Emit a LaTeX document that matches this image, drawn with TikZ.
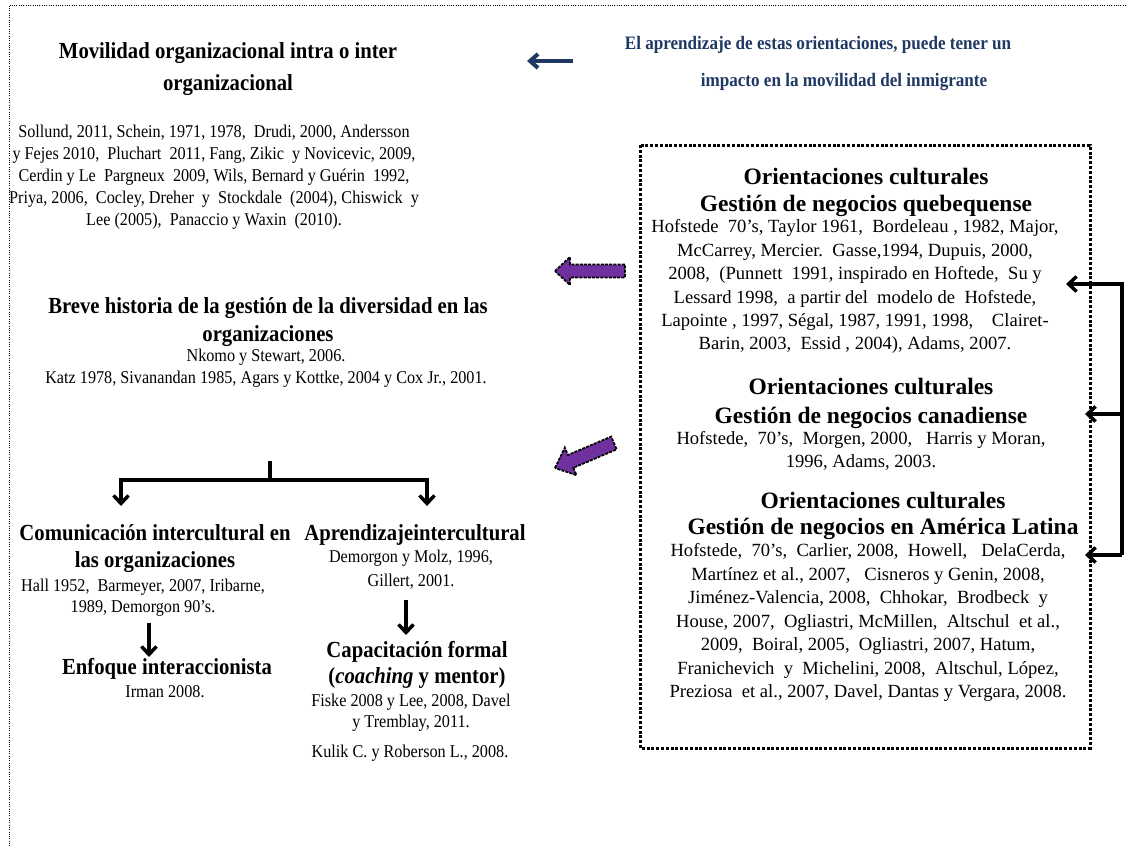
\documentclass[tikz,border=0pt]{standalone}
\usepackage{fontspec}
\setmainfont{Liberation Serif}
\newfontfamily\condfont{Liberation Serif}[FakeStretch=0.9]
\usetikzlibrary{arrows.meta}
\definecolor{navytext}{HTML}{1F3864}
\definecolor{arrowpurple}{HTML}{7030A0}

\begin{document}
\begin{tikzpicture}[x=1pt,y=-1pt,
  every node/.style={inner sep=0pt,outer sep=0pt},
  hd/.style={align=center,font=\condfont\bfseries\fontsize{23}{#1}\selectfont},
  hd/.default=28,
  ct/.style={align=center,font=\condfont\fontsize{18}{#1}\selectfont},
  ct/.default=22,
  bhd/.style={align=center,font=\bfseries\fontsize{23.5}{#1}\selectfont},
  bhd/.default=27,
  bct/.style={align=center,font=\fontsize{18.6}{#1}\selectfont},
  bct/.default=23.4,
  bluetxt/.style={text=navytext,font=\condfont\bfseries\fontsize{19}{20}\selectfont},
  barb/.style={line width=3.5pt,-{Straight Barb[length=8pt,width=15pt]}},
  plain/.style={line width=3.5pt},
  fatarrow/.style={fill=arrowpurple,draw=black,line width=1.8pt,dash pattern=on 3pt off 1.2pt,line join=miter},
  frame/.style={line width=1pt,dash pattern=on 1pt off 1.3pt},
  boxframe/.style={line width=3pt,dash pattern=on 3pt off 1.8pt}]
\useasboundingbox (0,0) rectangle (1126,846);

% outer dotted frame (top and left sides)
\draw[frame] (1126,5) -- (9,5) -- (9,846);

% --- left column -------------------------------------------------------
\node[hd=32,anchor=north] (movH) at (228,42.9)
  {Movilidad organizacional intra o inter\\organizacional};
\node[ct,anchor=north] (movC) at (214,125.1)
  {Sollund, 2011, Schein, 1971, 1978,\ \ Drudi, 2000, Andersson\\
   y Fejes 2010,\ \ Pluchart\ \ 2011, Fang, Zikic\ \ y Novicevic, 2009,\\
   Cerdin y Le\ \ Pargneux\ \ 2009, Wils, Bernard y Guérin\ \ 1992,\\
   Priya, 2006,\ \ Cocley, Dreher\ \ y\ \ Stockdale\ \ (2004), Chiswick\ \ y\\
   Lee (2005),\ \ Panaccio y Waxin\ \ (2010).};

\node[hd=28,anchor=north] (breH) at (268,297.9)
  {Breve historia de la gestión de la diversidad en las\\organizaciones};
\node[ct,anchor=north] (breC) at (266,349.1)
  {Nkomo y Stewart, 2006.\\
   Katz 1978, Sivanandan 1985, Agars y Kottke, 2004 y Cox Jr., 2001.};

\node[hd=27,anchor=north] (comH) at (155,524.9)
  {Comunicación intercultural en\\las organizaciones};
\node[ct=21,anchor=north] (comC) at (143,579.1)
  {Hall 1952,\ \ Barmeyer, 2007, Iribarne,\\1989, Demorgon 90’s.};
\node[hd,anchor=base] (enfH) at (167,674.75) {Enfoque interaccionista};
\node[ct,anchor=base] (enfC) at (165,697.5) {Irman 2008.};

\node[hd,anchor=base] (aprH) at (415,540.75) {Aprendizajeintercultural};
\node[ct=24,anchor=north] (aprC) at (411,550.1)
  {Demorgon y Molz, 1996,\\Gillert, 2001.};
\node[hd=26,anchor=north] (capH) at (417,640.9)
  {Capacitación formal\\(\textit{coaching} y mentor)};
\node[ct=21,anchor=north] (capC) at (411,694.1)
  {Fiske 2008 y Lee, 2008, Davel\\y Tremblay, 2011.};
\node[ct,anchor=base] (kul) at (410,757.5) {Kulik C. y Roberson L., 2008.};

% --- top right note ----------------------------------------------------
\node[bluetxt,anchor=base] (note1) at (818,49.75)
  {El aprendizaje de estas orientaciones, puede tener un};
\node[bluetxt,anchor=base] (note2) at (844,86.75)
  {impacto en la movilidad del inmigrante};
\coordinate (navyS) at (573,61);
\coordinate (navyE) at (527,61);
\draw[line width=4pt,navytext,-{Straight Barb[length=8pt,width=14pt]}] (navyS) -- (navyE);

% --- cultural orientations box ----------------------------------------
\draw[boxframe] (640,145) rectangle (1090,748);

\node[bhd=27,anchor=north] (queH) at (866,167.7)
  {Orientaciones culturales\\Gestión de negocios quebequense};
\node[bct,anchor=north] (queC) at (855,219.8)
  {Hofstede\ \ 70’s, Taylor 1961,\ \ Bordeleau , 1982, Major,\\
   McCarrey, Mercier.\ \ Gasse,1994, Dupuis, 2000,\\
   2008,\ \ (Punnett\ \ 1991, inspirado en Hoftede,\ \ Su y\\
   Lessard 1998,\ \ a partir del\ \ modelo de\ \ Hofstede,\\
   Lapointe , 1997, Ségal, 1987, 1991, 1998,\ \ \ \ Clairet-\\
   Barin, 2003,\ \ Essid , 2004), Adams, 2007.};

\node[bhd=29,anchor=north] (canH) at (871,377.7)
  {Orientaciones culturales\\Gestión de negocios canadiense};
\node[bct=23,anchor=north] (canC) at (861,431.8)
  {Hofstede,\ \ 70’s,\ \ Morgen, 2000,\ \ \ Harris y Moran,\\
   1996, Adams, 2003.};

\node[bhd=26,anchor=north] (latH) at (883,491.7)
  {Orientaciones culturales\\Gestión de negocios en América Latina};
\node[bct=23.5,anchor=north] (latC) at (868,543.8)
  {Hofstede,\ \ 70’s,\ \ Carlier, 2008,\ \ Howell,\ \ \ DelaCerda,\\
   Martínez et al., 2007,\ \ \ Cisneros y Genin, 2008,\\
   Jiménez-Valencia, 2008,\ \ Chhokar,\ \ Brodbeck\ \ y\\
   House, 2007,\ \ Ogliastri, McMillen,\ \ Altschul\ \ et al.,\\
   2009,\ \ Boiral, 2005,\ \ Ogliastri, 2007, Hatum,\\
   Franichevich\ \ y\ \ Michelini, 2008,\ \ Altschul, López,\\
   Preziosa\ \ et al., 2007, Davel, Dantas y Vergara, 2008.};

% --- purple block arrows out of the box --------------------------------
\draw[fatarrow] (555,271) -- (570,257) -- (570,264.5) -- (625,264.5)
  -- (625,277.5) -- (570,277.5) -- (570,285) -- cycle;
\draw[fatarrow] (555,468) -- (564.8,447.6) -- (567.9,455.0) -- (611.2,436.6)
  -- (616.6,449.4) -- (573.3,467.8) -- (576.5,475.2) -- cycle;

% --- bracket feeding the three orientation blocks ----------------------
\coordinate (brT) at (1122,284);
\coordinate (brM) at (1122,414);
\coordinate (brB) at (1122,555);
\coordinate (inQ) at (1066,284);
\coordinate (inC) at (1085,414);
\coordinate (inL) at (1085,555);
\draw[barb] (brB) -- (brT) -- (inQ);
\draw[barb] (brM) -- (inC);
\draw[barb] (brB) -- (inL);

% --- split into the two learning branches ------------------------------
\coordinate (splitTop) at (270,461);
\coordinate (splitMid) at (270,480);
\coordinate (toCom) at (121,506);
\coordinate (toApr) at (427,506);
\draw[plain] (splitTop) -- (splitMid);
\draw[barb] (splitMid) -| (toCom);
\draw[barb] (splitMid) -| (toApr);

% --- vertical links inside the branches ---------------------------------
\coordinate (comDownS) at (149,623);
\coordinate (comDownE) at (149,657);
\coordinate (aprDownS) at (406,600);
\coordinate (aprDownE) at (406,635);
\draw[barb] (comDownS) -- (comDownE);
\draw[barb] (aprDownS) -- (aprDownE);
\end{tikzpicture}
\end{document}
